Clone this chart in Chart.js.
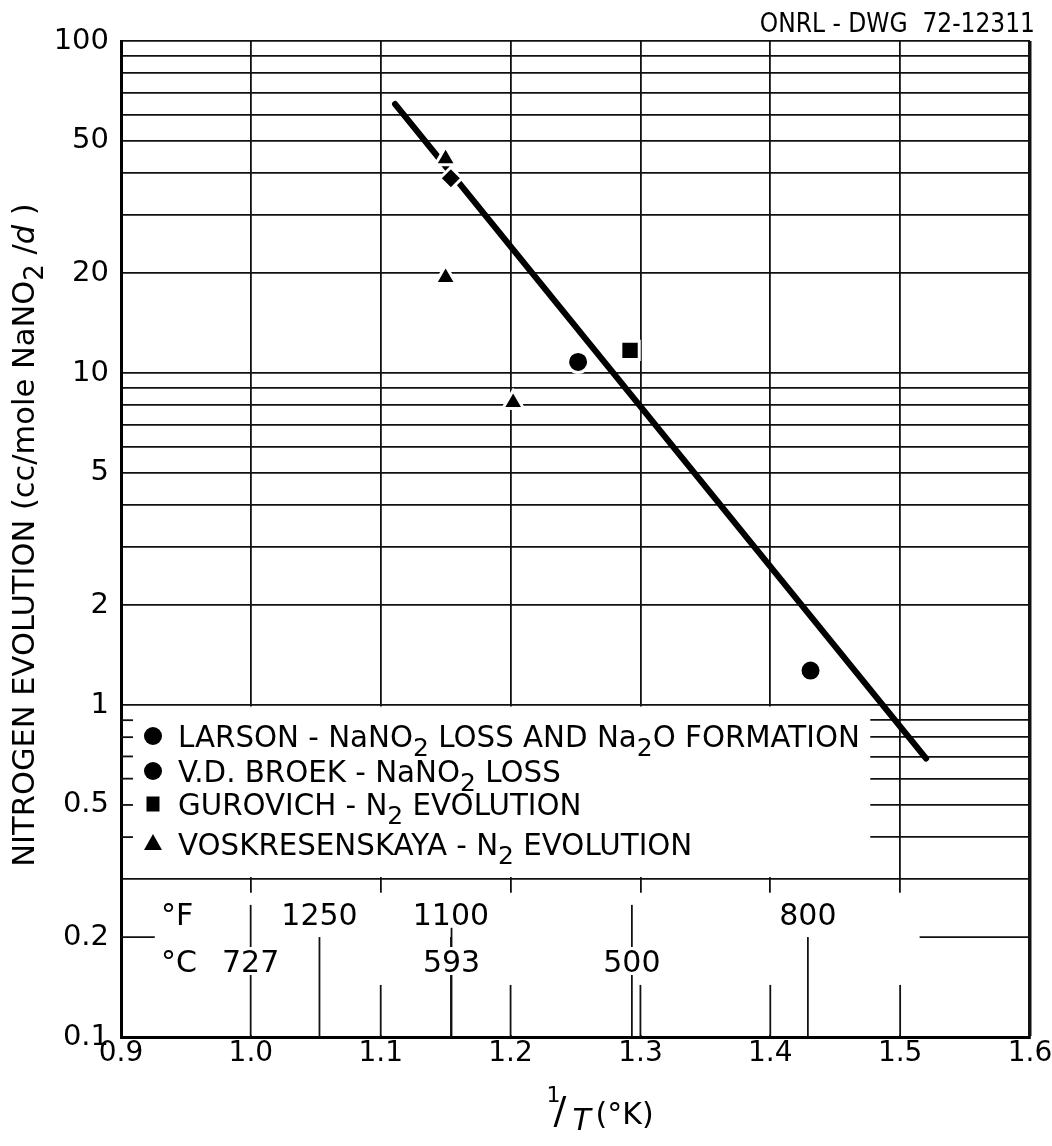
<!DOCTYPE html>
<html>
<head>
<meta charset="utf-8">
<script src="https://cdn.jsdelivr.net/npm/chart.js@4.4.0/dist/chart.umd.min.js"></script>
<style>
 html, body { margin: 0; padding: 0; background: #fff; }
 #wrap { width: 1052px; height: 1146px; position: relative; }
</style>
</head>
<body>
<div id="wrap"><canvas id="nitrogenChart"></canvas></div>
<script>
const FONT = '"DejaVu Sans", sans-serif';
const INK = '#111';

// axes
const xTicks = [0.9, 1.0, 1.1, 1.2, 1.3, 1.4, 1.5, 1.6];
const yTickLabels = [0.1, 0.2, 0.5, 1, 2, 5, 10, 20, 50, 100];

// measured points, x = 1/T (x1000, 1/K), y = cc/mole NaNO2/d
const larsonX = [1.252];
const larsonY = [10.8];
const broekX = [1.431];
const broekY = [1.27];
const diamondX = [1.154];
const diamondY = [38.6];
const gurovichX = [1.292];
const gurovichY = [11.7];
const voskX = [1.15, 1.15, 1.202];
const voskY = [44.2, 19.4, 8.15];

// fitted line, two end points
const fitX = [1.111, 1.52];
const fitY = [64.6, 0.69];

// temperature scale along the bottom
const tempC = [727, 593, 500];
const tempF = [1250, 1100, 800];

// log grid: every 1..9 of each decade
const yGrid = [];
[0.1, 1, 10].forEach(d => { for (let m = 1; m < 10; m++) yGrid.push(+(m * d).toPrecision(3)); });
yGrid.push(100);

const pts = (xs, ys) => xs.map((x, i) => ({ x: x, y: ys[i] }));
const cToInvK = c => 1000 / (c + 273.15);
const fToInvK = f => cToInvK((f - 32) * 5 / 9);

// text with sub/superscripts: parts = [text, size, dy, style]
function richWidth(ctx, parts) {
 let w = 0;
 parts.forEach(p => { ctx.font = (p[3] || '') + ' ' + p[1] + 'px ' + FONT; w += ctx.measureText(p[0]).width; });
 return w;
}
function richText(ctx, parts, x, yMid, size, align) {
 const w = richWidth(ctx, parts);
 let cx = align === 'center' ? x - w / 2 : x;
 const base = yMid + 0.365 * size;
 ctx.textAlign = 'left';
 ctx.textBaseline = 'alphabetic';
 parts.forEach(p => {
  ctx.font = (p[3] || '') + ' ' + p[1] + 'px ' + FONT;
  ctx.fillText(p[0], cx, base + (p[2] || 0));
  cx += ctx.measureText(p[0]).width;
 });
}

function marker(ctx, style, x, y) {
 ctx.beginPath();
 if (style === 'circle') {
  ctx.arc(x, y, 9, 0, Math.PI * 2);
 } else if (style === 'rect') {
  ctx.rect(x - 6.5, y - 7.5, 13, 15);
 } else {
  ctx.moveTo(x, y - 10);
  ctx.lineTo(x + 9, y + 6);
  ctx.lineTo(x - 9, y + 6);
  ctx.closePath();
 }
 ctx.fill();
}

const LS = 29.3;
const legendRows = [
 ['circle', [['LARSON - NaNO', LS], ['2', 25, 9], [' LOSS AND Na', LS], ['2', 25, 9], ['O FORMATION', LS]]],
 ['circle', [['V.D. BROEK - NaNO', LS], ['2', 25, 9], [' LOSS', LS]]],
 ['rect', [['GUROVICH - N', LS], ['2', 25, 9], [' EVOLUTION', LS]]],
 ['triangle', [['VOSKRESENSKAYA - N', LS], ['2', 25, 9], [' EVOLUTION', LS]]]
];
const legendRowOffsets = [31, 66, 99, 139];

const paperPlugin = {
 id: 'paper',
 beforeDatasetsDraw(chart) {
  const { ctx, chartArea: a, scales: { x, y } } = chart;
  const line = (x1, y1, x2, y2, w) => {
   ctx.lineWidth = w || 1.8;
   ctx.beginPath(); ctx.moveTo(x1, y1); ctx.lineTo(x2, y2); ctx.stroke();
  };
  ctx.save();
  ctx.strokeStyle = INK;
  ctx.fillStyle = '#fff';

  // legend panel
  const y1 = y.getPixelForValue(1);
  const y03 = y.getPixelForValue(0.3);
  const lRight = x.getPixelForValue(1.477);
  ctx.fillRect(a.left + 2, y1 + 1.5, lRight - a.left - 2, y03 - y1 - 3);
  yGrid.filter(v => v > 0.3 && v < 1).forEach(v => {
   const py = y.getPixelForValue(v);
   line(a.left, py, a.left + 12, py);
  });

  // temperature panel
  const yCut = y.getPixelForValue(0.272);
  ctx.fillRect(a.left + 2, yCut, a.right - a.left - 4, a.bottom - yCut - 2);
  const y02 = y.getPixelForValue(0.2);
  line(a.left, y02, x.getPixelForValue(0.926), y02);
  line(x.getPixelForValue(1.515), y02, a.right, y02);
  xTicks.filter(v => v > 1.05 && v < 1.55).forEach(v => {
   const px = x.getPixelForValue(v);
   line(px, y.getPixelForValue(0.1435), px, a.bottom);
  });
  tempC.forEach(c => {
   const px = x.getPixelForValue(cToInvK(c));
   line(px, y.getPixelForValue(0.25), px, a.bottom);
  });
  tempF.forEach(f => {
   const px = x.getPixelForValue(fToInvK(f));
   line(px, y02, px, a.bottom);
  });

  const rowF = y.getPixelForValue(0.235);
  const rowC = y.getPixelForValue(0.1694);
  ctx.font = '30px ' + FONT;
  const label = (txt, px, py) => {
   const w = ctx.measureText(txt).width;
   ctx.fillStyle = '#fff';
   ctx.fillRect(px - w / 2 - 3, py - 14, w + 6, 28);
   ctx.fillStyle = '#000';
   ctx.textAlign = 'center';
   ctx.textBaseline = 'alphabetic';
   ctx.fillText(txt, px, py + 11);
  };
  tempF.forEach(f => label(String(f), x.getPixelForValue(fToInvK(f)), rowF));
  tempC.forEach(c => label(String(c), x.getPixelForValue(cToInvK(c)), rowC));
  ctx.fillStyle = '#000';
  ctx.textAlign = 'left';
  ctx.fillText('°F', a.left + 40, rowF + 11);
  ctx.fillText('°C', a.left + 40, rowC + 11);

  // legend entries
  ctx.fillStyle = '#000';
  legendRows.forEach((row, i) => {
   const py = y1 + legendRowOffsets[i];
   marker(ctx, row[0], a.left + 32, py);
   richText(ctx, row[1], a.left + 57, py, LS, 'left');
  });
  ctx.restore();
 },
 afterDraw(chart) {
  const { ctx, chartArea: a } = chart;
  ctx.save();
  ctx.fillStyle = '#000';
  // drawing number, top right
  ctx.font = '26px "DejaVu Sans Condensed", ' + FONT;
  ctx.textAlign = 'right';
  ctx.textBaseline = 'alphabetic';
  ctx.fillText('ONRL - DWG  72-12311', 1035, 32);

  // y title
  ctx.translate(23, (a.top + a.bottom) / 2 - 4);
  ctx.rotate(-Math.PI / 2);
  richText(ctx, [['NITROGEN EVOLUTION (cc/mole NaNO', 30.5], ['2', 26, 9], [' /', 30.5], ['d', 30.5, 0, 'italic'], [' )', 30.5]], 0, 0, 30.5, 'center');
  ctx.setTransform(1, 0, 0, 1, 0, 0);

  // x title: 1/T (°K)
  const cx = (a.left + a.right) / 2;
  ctx.font = '22px ' + FONT;
  ctx.textAlign = 'left';
  ctx.fillText('1', cx - 29, a.bottom + 65);
  ctx.font = '38px ' + FONT;
  ctx.fillText('/', cx - 22, a.bottom + 86);
  ctx.font = 'italic 30px ' + FONT;
  ctx.fillText('T', cx - 3, a.bottom + 93);
  ctx.font = '30px ' + FONT;
  ctx.fillText('(°K)', cx + 20, a.bottom + 87);
  ctx.restore();
 }
};

const pointStyleOf = (style, r) => ({
 showLine: false,
 pointStyle: style,
 pointRadius: r,
 pointBackgroundColor: '#000',
 pointBorderColor: '#fff',
 pointBorderWidth: 3,
 order: 0
});

new Chart(document.getElementById('nitrogenChart'), {
 type: 'scatter',
 data: {
  datasets: [
   {
    label: 'fit',
    data: pts(fitX, fitY),
    showLine: true,
    borderColor: '#000',
    borderWidth: 6,
    borderCapStyle: 'round',
    pointRadius: 0,
    order: 5
   },
   Object.assign({ label: 'Larson', data: pts(larsonX, larsonY) }, pointStyleOf('circle', 10.5)),
   Object.assign({ label: 'V.D. Broek', data: pts(broekX, broekY) }, pointStyleOf('circle', 10.5)),
   Object.assign({ label: 'diamond', data: pts(diamondX, diamondY) }, pointStyleOf('rectRot', 11)),
   Object.assign({ label: 'Gurovich', data: pts(gurovichX, gurovichY) }, pointStyleOf('rect', 13)),
   Object.assign({ label: 'Voskresenskaya', data: pts(voskX, voskY) }, pointStyleOf('triangle', 12))
  ]
 },
 options: {
  responsive: true,
  maintainAspectRatio: false,
  animation: false,
  layout: { padding: { left: 0, top: 41, right: 22, bottom: 0 } },
  plugins: { legend: { display: false }, tooltip: { enabled: false } },
  scales: {
   x: {
    type: 'linear',
    min: 0.9,
    max: 1.6,
    afterBuildTicks: scale => { scale.ticks = xTicks.map(v => ({ value: v })); },
    afterFit: scale => {
     scale.height = 109;
     scale.paddingLeft = 0;
     scale.paddingRight = 0;
    },
    grid: {
     color: INK,
     lineWidth: c => (c.index === xTicks.length - 1 ? 3.5 : 1.8),
     drawTicks: false
    },
    border: { display: true, color: '#000', width: 3 },
    ticks: {
     color: '#000',
     padding: 0,
     autoSkip: false,
     maxRotation: 0,
     font: { family: FONT, size: 28 },
     callback: v => Number(v).toFixed(1)
    }
   },
   y: {
    type: 'logarithmic',
    min: 0.1,
    max: 100,
    afterBuildTicks: scale => { scale.ticks = yGrid.map(v => ({ value: v })); },
    afterFit: scale => { scale.width = 121; },
    grid: { color: INK, lineWidth: 1.8, drawTicks: false },
    border: { display: true, color: '#000', width: 3 },
    ticks: {
     color: '#000',
     padding: 12,
     autoSkip: false,
     font: { family: FONT, size: 29 },
     callback: v => {
      const hit = yTickLabels.find(t => Math.abs(t - v) / t < 1e-6);
      return hit === undefined ? '' : String(hit);
     }
    }
   }
  }
 },
 plugins: [paperPlugin]
});
</script>
</body>
</html>
